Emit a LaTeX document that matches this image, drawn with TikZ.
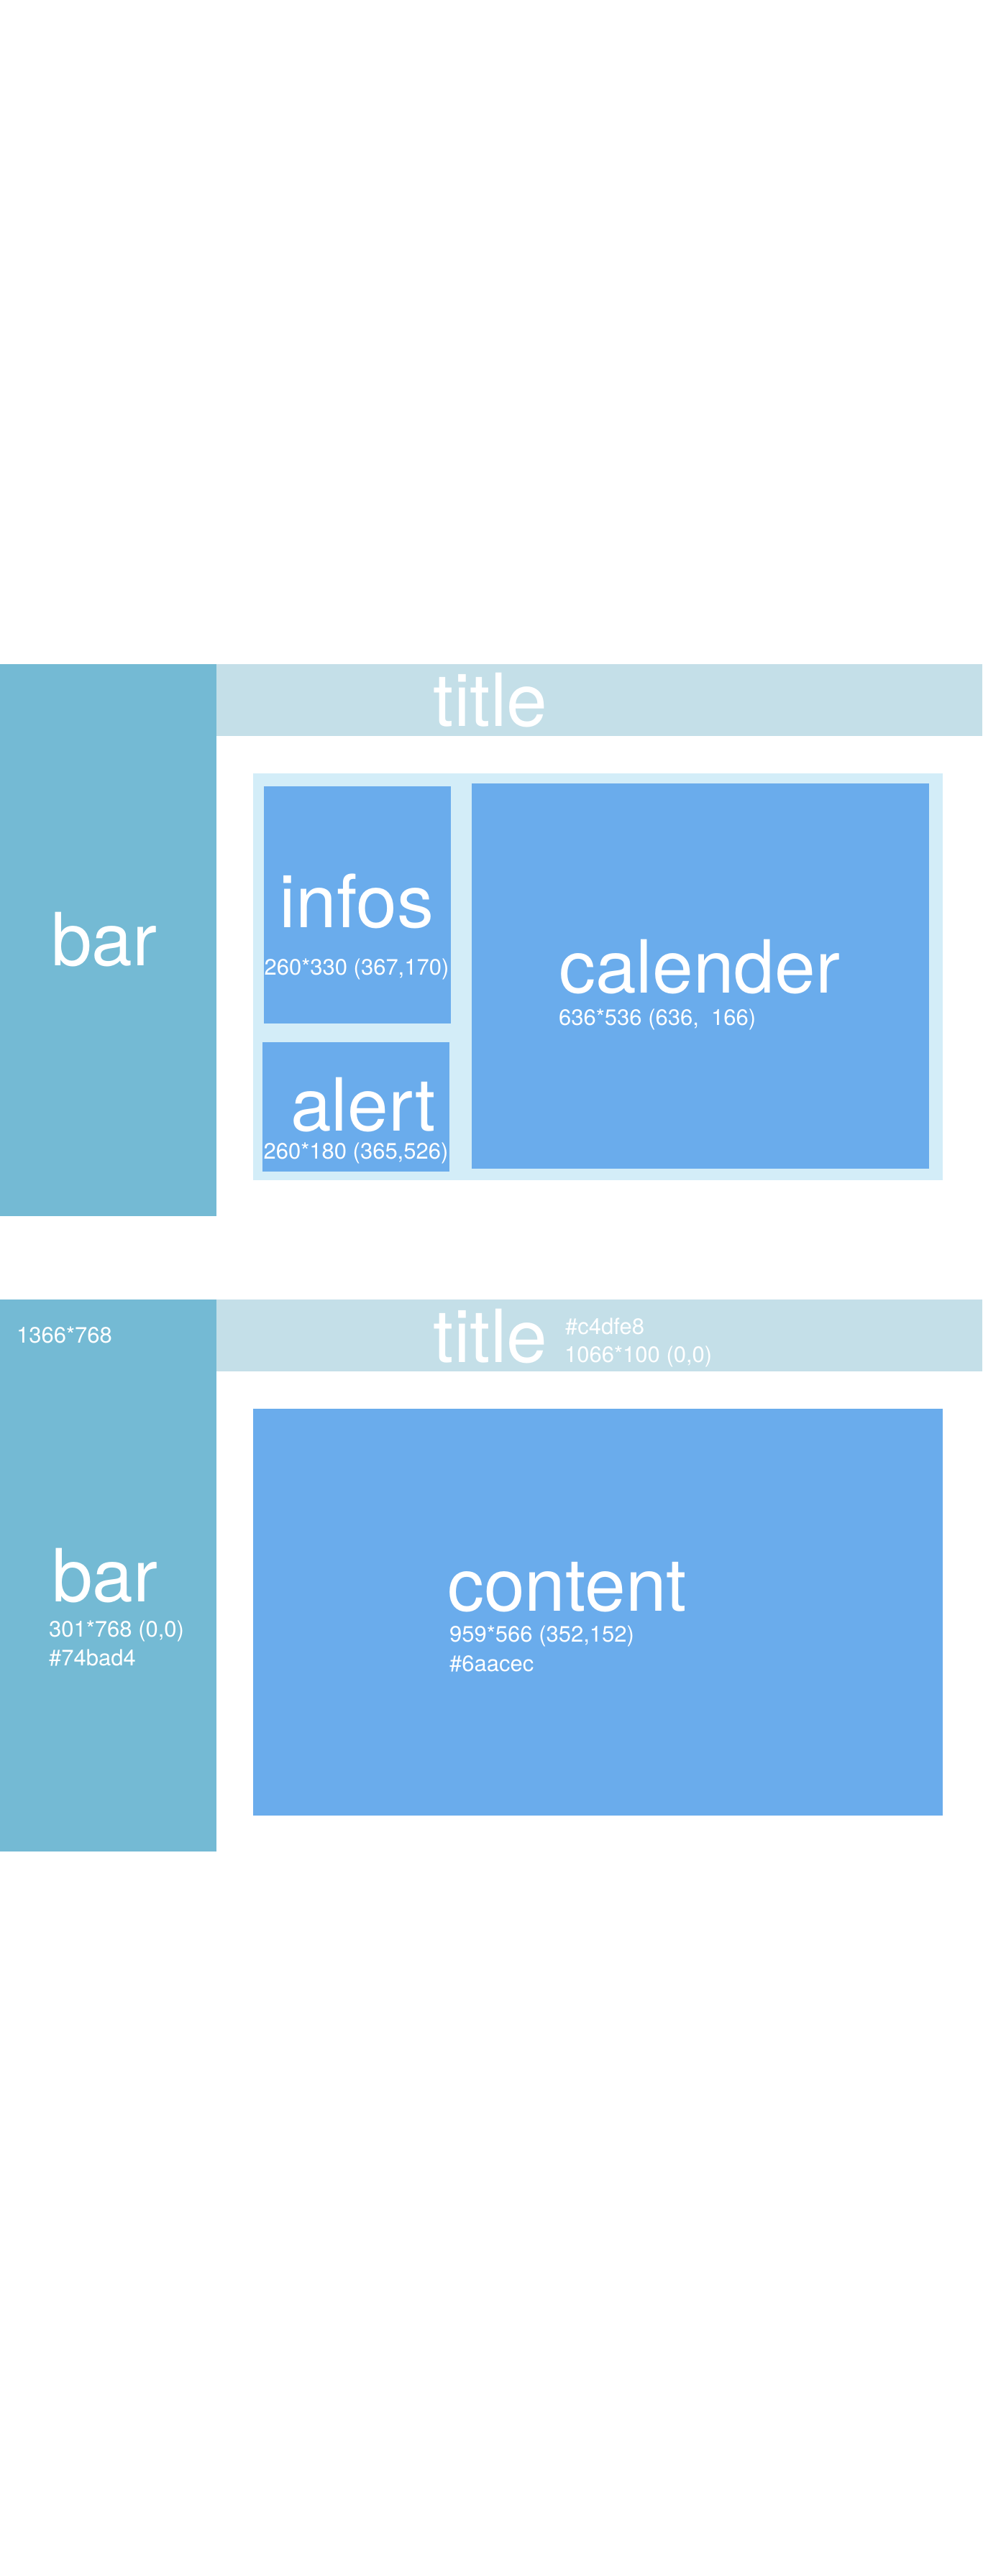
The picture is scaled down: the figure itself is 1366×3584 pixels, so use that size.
\documentclass[tikz,border=0pt]{standalone}
\usepackage{fontspec}
\setmainfont{TeX Gyre Heros}
\usetikzlibrary{positioning}

\definecolor{barblue}{HTML}{74BAD4}
\definecolor{titleblue}{HTML}{C4DFE8}
\definecolor{contentblue}{HTML}{6AACEC}
\definecolor{panelblue}{HTML}{D3EDF8}

\begin{document}
\begin{tikzpicture}[x=1pt,y=-1pt,
  block/.style={fill=#1, anchor=north west, inner sep=0pt, outer sep=0pt},
  big/.style={text=white, inner sep=0pt, font=\fontsize{102pt}{102pt}\selectfont},
  small/.style={text=white, inner sep=0pt, font=\fontsize{31pt}{31pt}\selectfont}]
  \useasboundingbox[fill=white] (0,0) rectangle (1366,3584);

  % first screen
  \node[block=barblue, minimum width=301pt, minimum height=768pt] (bar1) at (0,924) {};
  \node[block=titleblue, minimum width=1065pt, minimum height=100pt] (title1) at (301,924) {};
  \node[block=panelblue, minimum width=959pt, minimum height=566pt] (panel) at (352,1076) {};
  \node[block=contentblue, minimum width=260pt, minimum height=330pt] (infos) at (367,1094) {};
  \node[block=contentblue, minimum width=260pt, minimum height=180pt] (alert) at (365,1450) {};
  \node[block=contentblue, minimum width=636pt, minimum height=536pt] (calender) at (656,1090) {};

  \node[big, anchor=base west] (bartext1) at (71,1343) {bar};
  \node[big, anchor=base] (titletext1) at (682,1010) {title};
  \node[big, anchor=base] (infostext) at (496,1290) {infos};
  \node[small, anchor=base] (infossize) at (496,1356) {260*330 (367,170)};
  \node[big, anchor=base] (alerttext) at (505,1573) {alert};
  \node[small, anchor=base] (alertsize) at (495,1612) {260*180 (365,526)};
  \node[big, anchor=base west] (calendertext) at (777,1381) {calender};
  \node[small, anchor=base west] (calendersize) at (777,1426) {636*536 (636,~~166)};

  % second screen
  \node[block=barblue, minimum width=301pt, minimum height=768pt] (bar2) at (0,1808) {};
  \node[block=titleblue, minimum width=1065pt, minimum height=100pt] (title2) at (301,1808) {};
  \node[block=contentblue, minimum width=959pt, minimum height=566pt] (content) at (352,1960) {};

  \node[small, anchor=base west] (screensize) at (23,1868) {1366*768};
  \node[big, anchor=base] (titletext2) at (682,1895) {title};
  \node[small, anchor=base west] (titlecolor) at (786,1856) {\#c4dfe8};
  \node[small, anchor=base west] (titlesize) at (785,1895) {1066*100 (0,0)};
  \node[big, anchor=base west] (bartext2) at (72,2228) {bar};
  \node[small, anchor=base west] (barsize) at (68,2277) {301*768 (0,0)};
  \node[small, anchor=base west] (barcolor) at (68,2317) {\#74bad4};
  \node[big, anchor=base west] (contenttext) at (622,2241) {content};
  \node[small, anchor=base west] (contentsize) at (625,2284) {959*566 (352,152)};
  \node[small, anchor=base west] (contentcolor) at (625,2325) {\#6aacec};
\end{tikzpicture}
\end{document}
